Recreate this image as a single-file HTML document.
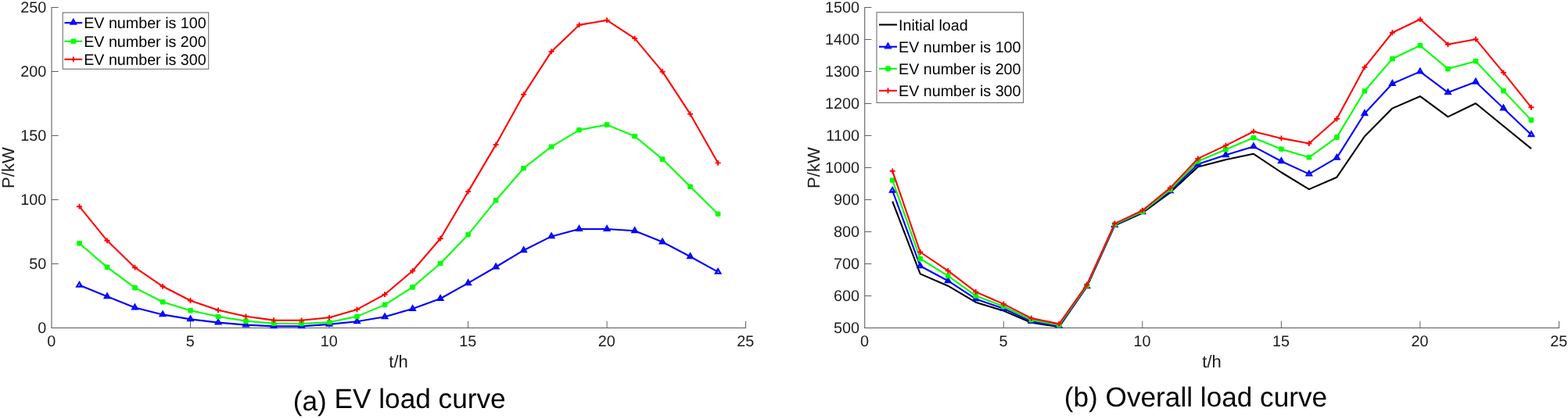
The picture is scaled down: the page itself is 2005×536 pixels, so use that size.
<!DOCTYPE html>
<html lang="en">
<head>
<meta charset="utf-8">
<title>EV load curve and overall load curve</title>
<style>
html,body{margin:0;padding:0;background:#fff;}
body{width:2005px;height:536px;overflow:hidden;}
svg{display:block;}
text{font-family:"Liberation Sans",Arial,Helvetica,sans-serif;fill:#1a1a1a;text-rendering:geometricPrecision;}
.tk{font-size:19.8px;}
.lg{font-size:19.7px;fill:#000;}
.lb{font-size:22px;}
.tt{font-size:35.2px;fill:#000;}
</style>
</head>
<body>
<svg width="2005" height="536" viewBox="0 0 2005 536">
<rect width="2005" height="536" fill="#fff"/>
<g id="chart-a">
<path d="M66.0 9.0V420.0" fill="none" stroke="#6e6e6e" stroke-width="1.2"/>
<path d="M65.5 419.5H954.1" fill="none" stroke="#585858" stroke-width="1"/>
<path d="M243.5 419.5V410.8M421.0 419.5V410.8M598.6 419.5V410.8M776.1 419.5V410.8M953.6 419.5V410.8M66.0 337.5H74.7M66.0 255.5H74.7M66.0 173.5H74.7M66.0 91.5H74.7M66.0 9.5H74.7" fill="none" stroke="#606060" stroke-width="1"/>
<text class="tk" x="65.7" y="443.4" text-anchor="middle">0</text>
<text class="tk" x="243.2" y="443.4" text-anchor="middle">5</text>
<text class="tk" x="420.7" y="443.4" text-anchor="middle">10</text>
<text class="tk" x="598.3" y="443.4" text-anchor="middle">15</text>
<text class="tk" x="775.8" y="443.4" text-anchor="middle">20</text>
<text class="tk" x="953.3" y="443.4" text-anchor="middle">25</text>
<text class="tk" x="59.2" y="426.2" text-anchor="end">0</text>
<text class="tk" x="59.2" y="344.2" text-anchor="end">50</text>
<text class="tk" x="59.2" y="262.2" text-anchor="end">100</text>
<text class="tk" x="59.2" y="180.2" text-anchor="end">150</text>
<text class="tk" x="59.2" y="98.2" text-anchor="end">200</text>
<text class="tk" x="59.2" y="16.2" text-anchor="end">250</text>
<polyline points="101.5,364.8 137.0,379.3 172.5,393.5 208.0,402.4 243.5,408.4 279.0,412.6 314.5,415.6 350.0,417.4 385.5,417.4 421.0,414.9 456.5,411.3 492.0,405.3 527.6,395.1 563.1,382.0 598.6,362.2 634.1,341.5 669.6,320.2 705.1,302.4 740.6,293.0 776.1,293.0 811.6,295.2 847.1,309.5 882.6,328.2 918.1,347.8" fill="none" stroke="#0000ff" stroke-width="2.10" stroke-linejoin="round"/>
<path d="M101.5 361.0L104.8 366.7L98.2 366.7Z" fill="none" stroke="#0000ff" stroke-width="2.1" stroke-linejoin="miter"/>
<path d="M137.0 375.5L140.3 381.2L133.7 381.2Z" fill="none" stroke="#0000ff" stroke-width="2.1" stroke-linejoin="miter"/>
<path d="M172.5 389.7L175.8 395.4L169.2 395.4Z" fill="none" stroke="#0000ff" stroke-width="2.1" stroke-linejoin="miter"/>
<path d="M208.0 398.6L211.3 404.3L204.7 404.3Z" fill="none" stroke="#0000ff" stroke-width="2.1" stroke-linejoin="miter"/>
<path d="M243.5 404.6L246.8 410.3L240.2 410.3Z" fill="none" stroke="#0000ff" stroke-width="2.1" stroke-linejoin="miter"/>
<path d="M279.0 408.8L282.3 414.5L275.7 414.5Z" fill="none" stroke="#0000ff" stroke-width="2.1" stroke-linejoin="miter"/>
<path d="M314.5 411.8L317.8 417.5L311.2 417.5Z" fill="none" stroke="#0000ff" stroke-width="2.1" stroke-linejoin="miter"/>
<path d="M350.0 413.6L353.3 419.3L346.7 419.3Z" fill="none" stroke="#0000ff" stroke-width="2.1" stroke-linejoin="miter"/>
<path d="M385.5 413.6L388.8 419.3L382.2 419.3Z" fill="none" stroke="#0000ff" stroke-width="2.1" stroke-linejoin="miter"/>
<path d="M421.0 411.1L424.3 416.8L417.7 416.8Z" fill="none" stroke="#0000ff" stroke-width="2.1" stroke-linejoin="miter"/>
<path d="M456.5 407.5L459.8 413.2L453.2 413.2Z" fill="none" stroke="#0000ff" stroke-width="2.1" stroke-linejoin="miter"/>
<path d="M492.0 401.5L495.3 407.2L488.7 407.2Z" fill="none" stroke="#0000ff" stroke-width="2.1" stroke-linejoin="miter"/>
<path d="M527.6 391.3L530.9 397.0L524.3 397.0Z" fill="none" stroke="#0000ff" stroke-width="2.1" stroke-linejoin="miter"/>
<path d="M563.1 378.2L566.4 383.9L559.8 383.9Z" fill="none" stroke="#0000ff" stroke-width="2.1" stroke-linejoin="miter"/>
<path d="M598.6 358.4L601.9 364.1L595.3 364.1Z" fill="none" stroke="#0000ff" stroke-width="2.1" stroke-linejoin="miter"/>
<path d="M634.1 337.7L637.4 343.4L630.8 343.4Z" fill="none" stroke="#0000ff" stroke-width="2.1" stroke-linejoin="miter"/>
<path d="M669.6 316.4L672.9 322.1L666.3 322.1Z" fill="none" stroke="#0000ff" stroke-width="2.1" stroke-linejoin="miter"/>
<path d="M705.1 298.6L708.4 304.3L701.8 304.3Z" fill="none" stroke="#0000ff" stroke-width="2.1" stroke-linejoin="miter"/>
<path d="M740.6 289.2L743.9 294.9L737.3 294.9Z" fill="none" stroke="#0000ff" stroke-width="2.1" stroke-linejoin="miter"/>
<path d="M776.1 289.2L779.4 294.9L772.8 294.9Z" fill="none" stroke="#0000ff" stroke-width="2.1" stroke-linejoin="miter"/>
<path d="M811.6 291.4L814.9 297.1L808.3 297.1Z" fill="none" stroke="#0000ff" stroke-width="2.1" stroke-linejoin="miter"/>
<path d="M847.1 305.7L850.4 311.4L843.8 311.4Z" fill="none" stroke="#0000ff" stroke-width="2.1" stroke-linejoin="miter"/>
<path d="M882.6 324.4L885.9 330.1L879.3 330.1Z" fill="none" stroke="#0000ff" stroke-width="2.1" stroke-linejoin="miter"/>
<path d="M918.1 344.0L921.4 349.7L914.8 349.7Z" fill="none" stroke="#0000ff" stroke-width="2.1" stroke-linejoin="miter"/>
<polyline points="101.5,311.2 137.0,341.9 172.5,368.1 208.0,386.3 243.5,397.2 279.0,405.0 314.5,410.6 350.0,413.8 385.5,414.0 421.0,412.3 456.5,404.9 492.0,389.9 527.6,367.4 563.1,337.0 598.6,300.2 634.1,256.3 669.6,215.2 705.1,187.7 740.6,166.3 776.1,159.6 811.6,174.3 847.1,203.6 882.6,238.8 918.1,273.7" fill="none" stroke="#00ff00" stroke-width="2.10" stroke-linejoin="round"/>
<rect x="98.2" y="307.9" width="6.7" height="6.6" rx="1.4" fill="#00ff00"/>
<rect x="133.7" y="338.6" width="6.7" height="6.6" rx="1.4" fill="#00ff00"/>
<rect x="169.2" y="364.8" width="6.7" height="6.6" rx="1.4" fill="#00ff00"/>
<rect x="204.7" y="383.0" width="6.7" height="6.6" rx="1.4" fill="#00ff00"/>
<rect x="240.2" y="393.9" width="6.7" height="6.6" rx="1.4" fill="#00ff00"/>
<rect x="275.7" y="401.7" width="6.7" height="6.6" rx="1.4" fill="#00ff00"/>
<rect x="311.2" y="407.3" width="6.7" height="6.6" rx="1.4" fill="#00ff00"/>
<rect x="346.7" y="410.5" width="6.7" height="6.6" rx="1.4" fill="#00ff00"/>
<rect x="382.2" y="410.7" width="6.7" height="6.6" rx="1.4" fill="#00ff00"/>
<rect x="417.7" y="409.0" width="6.7" height="6.6" rx="1.4" fill="#00ff00"/>
<rect x="453.2" y="401.6" width="6.7" height="6.6" rx="1.4" fill="#00ff00"/>
<rect x="488.7" y="386.6" width="6.7" height="6.6" rx="1.4" fill="#00ff00"/>
<rect x="524.2" y="364.1" width="6.7" height="6.6" rx="1.4" fill="#00ff00"/>
<rect x="559.7" y="333.7" width="6.7" height="6.6" rx="1.4" fill="#00ff00"/>
<rect x="595.2" y="296.9" width="6.7" height="6.6" rx="1.4" fill="#00ff00"/>
<rect x="630.7" y="253.0" width="6.7" height="6.6" rx="1.4" fill="#00ff00"/>
<rect x="666.2" y="211.9" width="6.7" height="6.6" rx="1.4" fill="#00ff00"/>
<rect x="701.7" y="184.4" width="6.7" height="6.6" rx="1.4" fill="#00ff00"/>
<rect x="737.2" y="163.0" width="6.7" height="6.6" rx="1.4" fill="#00ff00"/>
<rect x="772.7" y="156.3" width="6.7" height="6.6" rx="1.4" fill="#00ff00"/>
<rect x="808.2" y="171.0" width="6.7" height="6.6" rx="1.4" fill="#00ff00"/>
<rect x="843.7" y="200.3" width="6.7" height="6.6" rx="1.4" fill="#00ff00"/>
<rect x="879.2" y="235.5" width="6.7" height="6.6" rx="1.4" fill="#00ff00"/>
<rect x="914.7" y="270.4" width="6.7" height="6.6" rx="1.4" fill="#00ff00"/>
<polyline points="101.5,264.2 137.0,307.8 172.5,342.2 208.0,366.3 243.5,384.5 279.0,396.8 314.5,404.8 350.0,409.6 385.5,409.8 421.0,406.3 456.5,395.9 492.0,376.7 527.6,346.5 563.1,305.2 598.6,245.1 634.1,185.1 669.6,120.9 705.1,65.9 740.6,31.9 776.1,25.9 811.6,49.1 847.1,91.7 882.6,145.9 918.1,208.4" fill="none" stroke="#ff0000" stroke-width="2.10" stroke-linejoin="round"/>
<path d="M98.0 264.2H105.0M101.5 260.8V267.6" fill="none" stroke="#ff0000" stroke-width="1.9"/>
<path d="M133.5 307.8H140.5M137.0 304.4V311.2" fill="none" stroke="#ff0000" stroke-width="1.9"/>
<path d="M169.0 342.2H176.0M172.5 338.8V345.6" fill="none" stroke="#ff0000" stroke-width="1.9"/>
<path d="M204.5 366.3H211.5M208.0 362.9V369.7" fill="none" stroke="#ff0000" stroke-width="1.9"/>
<path d="M240.0 384.5H247.0M243.5 381.1V387.9" fill="none" stroke="#ff0000" stroke-width="1.9"/>
<path d="M275.5 396.8H282.5M279.0 393.4V400.2" fill="none" stroke="#ff0000" stroke-width="1.9"/>
<path d="M311.0 404.8H318.0M314.5 401.4V408.2" fill="none" stroke="#ff0000" stroke-width="1.9"/>
<path d="M346.5 409.6H353.5M350.0 406.2V413.0" fill="none" stroke="#ff0000" stroke-width="1.9"/>
<path d="M382.0 409.8H389.0M385.5 406.4V413.2" fill="none" stroke="#ff0000" stroke-width="1.9"/>
<path d="M417.5 406.3H424.5M421.0 402.9V409.7" fill="none" stroke="#ff0000" stroke-width="1.9"/>
<path d="M453.0 395.9H460.0M456.5 392.5V399.3" fill="none" stroke="#ff0000" stroke-width="1.9"/>
<path d="M488.5 376.7H495.5M492.0 373.3V380.1" fill="none" stroke="#ff0000" stroke-width="1.9"/>
<path d="M524.1 346.5H531.1M527.6 343.1V349.9" fill="none" stroke="#ff0000" stroke-width="1.9"/>
<path d="M559.6 305.2H566.6M563.1 301.8V308.6" fill="none" stroke="#ff0000" stroke-width="1.9"/>
<path d="M595.1 245.1H602.1M598.6 241.7V248.5" fill="none" stroke="#ff0000" stroke-width="1.9"/>
<path d="M630.6 185.1H637.6M634.1 181.7V188.5" fill="none" stroke="#ff0000" stroke-width="1.9"/>
<path d="M666.1 120.9H673.1M669.6 117.5V124.3" fill="none" stroke="#ff0000" stroke-width="1.9"/>
<path d="M701.6 65.9H708.6M705.1 62.5V69.3" fill="none" stroke="#ff0000" stroke-width="1.9"/>
<path d="M737.1 31.9H744.1M740.6 28.5V35.3" fill="none" stroke="#ff0000" stroke-width="1.9"/>
<path d="M772.6 25.9H779.6M776.1 22.5V29.3" fill="none" stroke="#ff0000" stroke-width="1.9"/>
<path d="M808.1 49.1H815.1M811.6 45.7V52.5" fill="none" stroke="#ff0000" stroke-width="1.9"/>
<path d="M843.6 91.7H850.6M847.1 88.3V95.1" fill="none" stroke="#ff0000" stroke-width="1.9"/>
<path d="M879.1 145.9H886.1M882.6 142.5V149.3" fill="none" stroke="#ff0000" stroke-width="1.9"/>
<path d="M914.6 208.4H921.6M918.1 205.0V211.8" fill="none" stroke="#ff0000" stroke-width="1.9"/>
<rect x="80.2" y="16.1" width="186.5" height="72.2" fill="#fff" stroke="#606060" stroke-width="1"/>
<path d="M82.4 29.2H105.2" stroke="#0000ff" stroke-width="2.10" fill="none"/>
<path d="M93.8 25.1L97.1 30.8L90.5 30.8Z" fill="none" stroke="#0000ff" stroke-width="2.1" stroke-linejoin="miter"/>
<text class="lg" x="107.2" y="36.4">EV number is 100</text>
<path d="M82.4 52.8H105.2" stroke="#00ff00" stroke-width="2.10" fill="none"/>
<rect x="90.5" y="49.5" width="6.7" height="6.6" rx="1.4" fill="#00ff00"/>
<text class="lg" x="107.2" y="60.0">EV number is 200</text>
<path d="M82.4 75.9H105.2" stroke="#ff0000" stroke-width="2.10" fill="none"/>
<path d="M90.3 75.9H97.3M93.8 72.5V79.3" fill="none" stroke="#ff0000" stroke-width="1.9"/>
<text class="lg" x="107.2" y="83.1">EV number is 300</text>
<text class="lb" x="509.5" y="469.8" text-anchor="middle">t/h</text>
<text class="lb" transform="translate(18.4 214.6) rotate(-90)" text-anchor="middle">P/kW</text>
<text class="tt" x="374.8" y="521.9"><tspan dy="3.0">(a)</tspan><tspan dy="-3.0"> EV load curve</tspan></text>
</g>
<g id="chart-b">
<path d="M1105.7 9.0V420.0" fill="none" stroke="#6e6e6e" stroke-width="1.2"/>
<path d="M1105.2 419.5H1994.0" fill="none" stroke="#585858" stroke-width="1"/>
<path d="M1283.3 419.5V410.8M1460.8 419.5V410.8M1638.4 419.5V410.8M1815.9 419.5V410.8M1993.5 419.5V410.8M1105.7 378.5H1114.4M1105.7 337.5H1114.4M1105.7 296.5H1114.4M1105.7 255.5H1114.4M1105.7 214.5H1114.4M1105.7 173.5H1114.4M1105.7 132.5H1114.4M1105.7 91.5H1114.4M1105.7 50.5H1114.4M1105.7 9.5H1114.4" fill="none" stroke="#606060" stroke-width="1"/>
<text class="tk" x="1105.4" y="443.4" text-anchor="middle">0</text>
<text class="tk" x="1283.0" y="443.4" text-anchor="middle">5</text>
<text class="tk" x="1460.5" y="443.4" text-anchor="middle">10</text>
<text class="tk" x="1638.1" y="443.4" text-anchor="middle">15</text>
<text class="tk" x="1815.6" y="443.4" text-anchor="middle">20</text>
<text class="tk" x="1993.2" y="443.4" text-anchor="middle">25</text>
<text class="tk" x="1098.9" y="426.2" text-anchor="end">500</text>
<text class="tk" x="1098.9" y="385.2" text-anchor="end">600</text>
<text class="tk" x="1098.9" y="344.2" text-anchor="end">700</text>
<text class="tk" x="1098.9" y="303.2" text-anchor="end">800</text>
<text class="tk" x="1098.9" y="262.2" text-anchor="end">900</text>
<text class="tk" x="1098.9" y="221.2" text-anchor="end">1000</text>
<text class="tk" x="1098.9" y="180.2" text-anchor="end">1100</text>
<text class="tk" x="1098.9" y="139.2" text-anchor="end">1200</text>
<text class="tk" x="1098.9" y="98.2" text-anchor="end">1300</text>
<text class="tk" x="1098.9" y="57.2" text-anchor="end">1400</text>
<text class="tk" x="1098.9" y="16.2" text-anchor="end">1500</text>
<polyline points="1141.2,257.6 1176.7,350.4 1212.2,365.7 1247.7,386.7 1283.3,397.6 1318.8,412.8 1354.3,418.1 1389.8,366.7 1425.3,288.5 1460.8,272.5 1496.3,246.3 1531.8,213.6 1567.4,204.3 1602.9,196.8 1638.4,220.5 1673.9,242.1 1709.4,226.7 1744.9,174.5 1780.4,138.6 1815.9,123.2 1851.5,149.4 1887.0,132.2 1922.5,161.3 1958.0,190.1" fill="none" stroke="#000000" stroke-width="2.10" stroke-linejoin="round"/>
<polyline points="1141.2,243.9 1176.7,340.3 1212.2,359.2 1247.7,382.4 1283.3,394.8 1318.8,411.1 1354.3,417.1 1389.8,366.2 1425.3,288.0 1460.8,271.4 1496.3,244.2 1531.8,210.1 1567.4,198.2 1602.9,187.4 1638.4,206.2 1673.9,222.6 1709.4,201.9 1744.9,145.2 1780.4,107.0 1815.9,91.6 1851.5,118.3 1887.0,104.7 1922.5,138.5 1958.0,172.2" fill="none" stroke="#0000ff" stroke-width="2.10" stroke-linejoin="round"/>
<path d="M1141.2 240.1L1144.5 245.8L1137.9 245.8Z" fill="none" stroke="#0000ff" stroke-width="2.1" stroke-linejoin="miter"/>
<path d="M1176.7 336.5L1180.0 342.2L1173.4 342.2Z" fill="none" stroke="#0000ff" stroke-width="2.1" stroke-linejoin="miter"/>
<path d="M1212.2 355.4L1215.5 361.1L1208.9 361.1Z" fill="none" stroke="#0000ff" stroke-width="2.1" stroke-linejoin="miter"/>
<path d="M1247.7 378.6L1251.0 384.3L1244.4 384.3Z" fill="none" stroke="#0000ff" stroke-width="2.1" stroke-linejoin="miter"/>
<path d="M1283.3 391.0L1286.6 396.7L1280.0 396.7Z" fill="none" stroke="#0000ff" stroke-width="2.1" stroke-linejoin="miter"/>
<path d="M1318.8 407.3L1322.1 413.0L1315.5 413.0Z" fill="none" stroke="#0000ff" stroke-width="2.1" stroke-linejoin="miter"/>
<path d="M1354.3 413.3L1357.6 419.0L1351.0 419.0Z" fill="none" stroke="#0000ff" stroke-width="2.1" stroke-linejoin="miter"/>
<path d="M1389.8 362.4L1393.1 368.1L1386.5 368.1Z" fill="none" stroke="#0000ff" stroke-width="2.1" stroke-linejoin="miter"/>
<path d="M1425.3 284.2L1428.6 289.9L1422.0 289.9Z" fill="none" stroke="#0000ff" stroke-width="2.1" stroke-linejoin="miter"/>
<path d="M1460.8 267.6L1464.1 273.2L1457.5 273.2Z" fill="none" stroke="#0000ff" stroke-width="2.1" stroke-linejoin="miter"/>
<path d="M1496.3 240.4L1499.6 246.2L1493.0 246.2Z" fill="none" stroke="#0000ff" stroke-width="2.1" stroke-linejoin="miter"/>
<path d="M1531.8 206.2L1535.1 212.0L1528.5 212.0Z" fill="none" stroke="#0000ff" stroke-width="2.1" stroke-linejoin="miter"/>
<path d="M1567.4 194.4L1570.7 200.1L1564.1 200.1Z" fill="none" stroke="#0000ff" stroke-width="2.1" stroke-linejoin="miter"/>
<path d="M1602.9 183.6L1606.2 189.3L1599.6 189.3Z" fill="none" stroke="#0000ff" stroke-width="2.1" stroke-linejoin="miter"/>
<path d="M1638.4 202.4L1641.7 208.1L1635.1 208.1Z" fill="none" stroke="#0000ff" stroke-width="2.1" stroke-linejoin="miter"/>
<path d="M1673.9 218.8L1677.2 224.5L1670.6 224.5Z" fill="none" stroke="#0000ff" stroke-width="2.1" stroke-linejoin="miter"/>
<path d="M1709.4 198.1L1712.7 203.8L1706.1 203.8Z" fill="none" stroke="#0000ff" stroke-width="2.1" stroke-linejoin="miter"/>
<path d="M1744.9 141.4L1748.2 147.1L1741.6 147.1Z" fill="none" stroke="#0000ff" stroke-width="2.1" stroke-linejoin="miter"/>
<path d="M1780.4 103.2L1783.7 108.9L1777.1 108.9Z" fill="none" stroke="#0000ff" stroke-width="2.1" stroke-linejoin="miter"/>
<path d="M1815.9 87.8L1819.2 93.5L1812.6 93.5Z" fill="none" stroke="#0000ff" stroke-width="2.1" stroke-linejoin="miter"/>
<path d="M1851.5 114.5L1854.8 120.2L1848.2 120.2Z" fill="none" stroke="#0000ff" stroke-width="2.1" stroke-linejoin="miter"/>
<path d="M1887.0 100.9L1890.3 106.6L1883.7 106.6Z" fill="none" stroke="#0000ff" stroke-width="2.1" stroke-linejoin="miter"/>
<path d="M1922.5 134.7L1925.8 140.4L1919.2 140.4Z" fill="none" stroke="#0000ff" stroke-width="2.1" stroke-linejoin="miter"/>
<path d="M1958.0 168.4L1961.3 174.1L1954.7 174.1Z" fill="none" stroke="#0000ff" stroke-width="2.1" stroke-linejoin="miter"/>
<polyline points="1141.2,230.5 1176.7,331.0 1212.2,352.9 1247.7,378.4 1283.3,392.0 1318.8,409.2 1354.3,415.9 1389.8,365.3 1425.3,287.1 1460.8,270.7 1496.3,242.7 1531.8,206.2 1567.4,191.3 1602.9,176.2 1638.4,190.7 1673.9,201.3 1709.4,175.6 1744.9,116.5 1780.4,75.3 1815.9,58.2 1851.5,88.1 1887.0,78.2 1922.5,116.1 1958.0,153.6" fill="none" stroke="#00ff00" stroke-width="2.10" stroke-linejoin="round"/>
<rect x="1137.9" y="227.2" width="6.7" height="6.6" rx="1.4" fill="#00ff00"/>
<rect x="1173.4" y="327.7" width="6.7" height="6.6" rx="1.4" fill="#00ff00"/>
<rect x="1208.9" y="349.6" width="6.7" height="6.6" rx="1.4" fill="#00ff00"/>
<rect x="1244.4" y="375.1" width="6.7" height="6.6" rx="1.4" fill="#00ff00"/>
<rect x="1279.9" y="388.7" width="6.7" height="6.6" rx="1.4" fill="#00ff00"/>
<rect x="1315.4" y="405.9" width="6.7" height="6.6" rx="1.4" fill="#00ff00"/>
<rect x="1350.9" y="412.6" width="6.7" height="6.6" rx="1.4" fill="#00ff00"/>
<rect x="1386.4" y="362.0" width="6.7" height="6.6" rx="1.4" fill="#00ff00"/>
<rect x="1422.0" y="283.8" width="6.7" height="6.6" rx="1.4" fill="#00ff00"/>
<rect x="1457.5" y="267.4" width="6.7" height="6.6" rx="1.4" fill="#00ff00"/>
<rect x="1493.0" y="239.3" width="6.7" height="6.6" rx="1.4" fill="#00ff00"/>
<rect x="1528.5" y="202.9" width="6.7" height="6.6" rx="1.4" fill="#00ff00"/>
<rect x="1564.0" y="188.0" width="6.7" height="6.6" rx="1.4" fill="#00ff00"/>
<rect x="1599.5" y="172.9" width="6.7" height="6.6" rx="1.4" fill="#00ff00"/>
<rect x="1635.0" y="187.4" width="6.7" height="6.6" rx="1.4" fill="#00ff00"/>
<rect x="1670.5" y="198.0" width="6.7" height="6.6" rx="1.4" fill="#00ff00"/>
<rect x="1706.1" y="172.3" width="6.7" height="6.6" rx="1.4" fill="#00ff00"/>
<rect x="1741.6" y="113.2" width="6.7" height="6.6" rx="1.4" fill="#00ff00"/>
<rect x="1777.1" y="72.0" width="6.7" height="6.6" rx="1.4" fill="#00ff00"/>
<rect x="1812.6" y="54.9" width="6.7" height="6.6" rx="1.4" fill="#00ff00"/>
<rect x="1848.1" y="84.8" width="6.7" height="6.6" rx="1.4" fill="#00ff00"/>
<rect x="1883.6" y="74.9" width="6.7" height="6.6" rx="1.4" fill="#00ff00"/>
<rect x="1919.1" y="112.8" width="6.7" height="6.6" rx="1.4" fill="#00ff00"/>
<rect x="1954.6" y="150.3" width="6.7" height="6.6" rx="1.4" fill="#00ff00"/>
<polyline points="1141.2,218.8 1176.7,322.5 1212.2,346.4 1247.7,373.4 1283.3,388.9 1318.8,407.1 1354.3,414.4 1389.8,364.2 1425.3,286.1 1460.8,269.2 1496.3,240.4 1531.8,202.9 1567.4,186.1 1602.9,168.2 1638.4,176.9 1673.9,183.5 1709.4,152.0 1744.9,86.1 1780.4,41.7 1815.9,24.8 1851.5,56.8 1887.0,50.2 1922.5,92.9 1958.0,137.3" fill="none" stroke="#ff0000" stroke-width="2.10" stroke-linejoin="round"/>
<path d="M1137.7 218.8H1144.7M1141.2 215.4V222.2" fill="none" stroke="#ff0000" stroke-width="1.9"/>
<path d="M1173.2 322.5H1180.2M1176.7 319.1V325.9" fill="none" stroke="#ff0000" stroke-width="1.9"/>
<path d="M1208.7 346.4H1215.7M1212.2 343.0V349.8" fill="none" stroke="#ff0000" stroke-width="1.9"/>
<path d="M1244.2 373.4H1251.2M1247.7 370.0V376.8" fill="none" stroke="#ff0000" stroke-width="1.9"/>
<path d="M1279.8 388.9H1286.8M1283.3 385.5V392.2" fill="none" stroke="#ff0000" stroke-width="1.9"/>
<path d="M1315.3 407.1H1322.3M1318.8 403.7V410.5" fill="none" stroke="#ff0000" stroke-width="1.9"/>
<path d="M1350.8 414.4H1357.8M1354.3 411.0V417.8" fill="none" stroke="#ff0000" stroke-width="1.9"/>
<path d="M1386.3 364.2H1393.3M1389.8 360.8V367.6" fill="none" stroke="#ff0000" stroke-width="1.9"/>
<path d="M1421.8 286.1H1428.8M1425.3 282.7V289.5" fill="none" stroke="#ff0000" stroke-width="1.9"/>
<path d="M1457.3 269.2H1464.3M1460.8 265.8V272.6" fill="none" stroke="#ff0000" stroke-width="1.9"/>
<path d="M1492.8 240.4H1499.8M1496.3 237.0V243.8" fill="none" stroke="#ff0000" stroke-width="1.9"/>
<path d="M1528.3 202.9H1535.3M1531.8 199.5V206.3" fill="none" stroke="#ff0000" stroke-width="1.9"/>
<path d="M1563.9 186.1H1570.9M1567.4 182.7V189.5" fill="none" stroke="#ff0000" stroke-width="1.9"/>
<path d="M1599.4 168.2H1606.4M1602.9 164.8V171.6" fill="none" stroke="#ff0000" stroke-width="1.9"/>
<path d="M1634.9 176.9H1641.9M1638.4 173.5V180.3" fill="none" stroke="#ff0000" stroke-width="1.9"/>
<path d="M1670.4 183.5H1677.4M1673.9 180.1V186.9" fill="none" stroke="#ff0000" stroke-width="1.9"/>
<path d="M1705.9 152.0H1712.9M1709.4 148.6V155.4" fill="none" stroke="#ff0000" stroke-width="1.9"/>
<path d="M1741.4 86.1H1748.4M1744.9 82.7V89.5" fill="none" stroke="#ff0000" stroke-width="1.9"/>
<path d="M1776.9 41.7H1783.9M1780.4 38.3V45.1" fill="none" stroke="#ff0000" stroke-width="1.9"/>
<path d="M1812.4 24.8H1819.4M1815.9 21.4V28.2" fill="none" stroke="#ff0000" stroke-width="1.9"/>
<path d="M1848.0 56.8H1855.0M1851.5 53.4V60.2" fill="none" stroke="#ff0000" stroke-width="1.9"/>
<path d="M1883.5 50.2H1890.5M1887.0 46.8V53.6" fill="none" stroke="#ff0000" stroke-width="1.9"/>
<path d="M1919.0 92.9H1926.0M1922.5 89.5V96.3" fill="none" stroke="#ff0000" stroke-width="1.9"/>
<path d="M1954.5 137.3H1961.5M1958.0 133.9V140.7" fill="none" stroke="#ff0000" stroke-width="1.9"/>
<rect x="1121.0" y="15.8" width="187.6" height="115.6" fill="#fff" stroke="#606060" stroke-width="1"/>
<path d="M1124.0 31.6H1147.0" stroke="#000000" stroke-width="2.10" fill="none"/>
<text class="lg" x="1149.0" y="38.8">Initial load</text>
<path d="M1124.0 59.8H1147.0" stroke="#0000ff" stroke-width="2.10" fill="none"/>
<path d="M1135.5 55.7L1138.8 61.4L1132.2 61.4Z" fill="none" stroke="#0000ff" stroke-width="2.1" stroke-linejoin="miter"/>
<text class="lg" x="1149.0" y="67.0">EV number is 100</text>
<path d="M1124.0 87.9H1147.0" stroke="#00ff00" stroke-width="2.10" fill="none"/>
<rect x="1132.2" y="84.6" width="6.7" height="6.6" rx="1.4" fill="#00ff00"/>
<text class="lg" x="1149.0" y="95.1">EV number is 200</text>
<path d="M1124.0 116.0H1147.0" stroke="#ff0000" stroke-width="2.10" fill="none"/>
<path d="M1132.0 116.0H1139.0M1135.5 112.6V119.4" fill="none" stroke="#ff0000" stroke-width="1.9"/>
<text class="lg" x="1149.0" y="123.2">EV number is 300</text>
<text class="lb" x="1549.5" y="469.8" text-anchor="middle">t/h</text>
<text class="lb" transform="translate(1047.9 214.6) rotate(-90)" text-anchor="middle">P/kW</text>
<text class="tt" x="1360.8" y="520.0">(b) Overall load curve</text>
</g>
</svg>
</body>
</html>
